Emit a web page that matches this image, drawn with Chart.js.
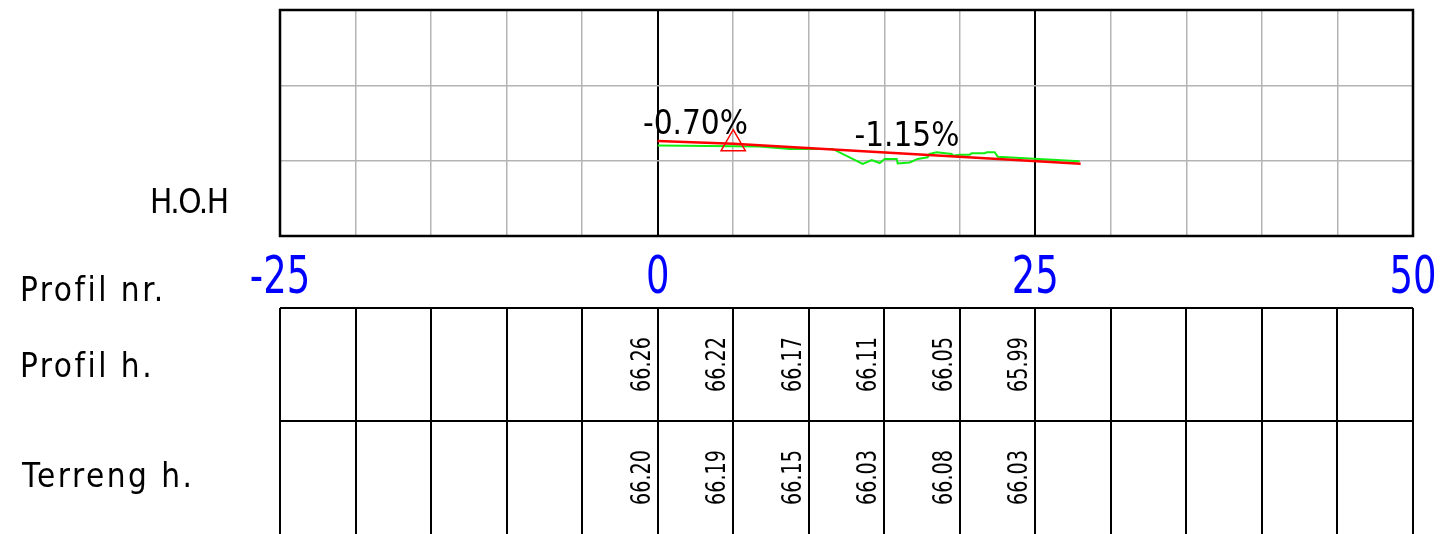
<!DOCTYPE html>
<html>
<head>
<meta charset="utf-8">
<script src="https://cdn.jsdelivr.net/npm/chart.js@4.4.1/dist/chart.umd.min.js"></script>
<style>
  html, body { margin: 0; padding: 0; background: #fff; }
  canvas { display: block; }
</style>
</head>
<body>
<canvas id="profile" width="1440" height="534"></canvas>
<script>
// stations along the profile (m) and the table values under them
const stations = [0, 5, 10, 15, 20, 25];
const profileHeights = ['66.26', '66.22', '66.17', '66.11', '66.05', '65.99'];
const terrainHeights = ['66.20', '66.19', '66.15', '66.03', '66.08', '66.03'];
const axisTicks = [-25, 0, 25, 50];
const rowLabels = ['H.O.H', 'Profil nr.', 'Profil h.', 'Terreng h.'];

// design line (red), break point at station 5
const designX = [0, 5, 28];
const designY = [66.26, 66.225, 65.96];
const gradeLabels = ['-0.70%', '-1.15%'];
const breakX = [5];
const breakY = [66.225];

// terrain line (green)
const terrainX = [0, 6.75, 8.74, 11.58, 13.57, 14.17, 14.70, 15.03, 15.82, 15.89, 16.68, 17.21,
  17.87, 18.00, 18.47, 19.46, 19.53, 19.99, 20.65, 20.79, 21.65, 21.78, 22.31, 22.51, 27.93];
const terrainY = [66.20, 66.187, 66.156, 66.156, 65.956, 66.009, 65.969, 66.023, 66.023, 65.964, 65.977, 66.023,
  66.044, 66.089, 66.111, 66.089, 66.067, 66.08, 66.08, 66.097, 66.097, 66.111, 66.111, 66.053, 65.991];

const toPoints = (xs, ys) => xs.map((x, i) => ({ x: x, y: ys[i] }));

const FONT = '"DejaVu Sans Condensed", "DejaVu Sans", sans-serif';
// the drawing uses a narrow CAD font for numbers, squeeze the glyphs a bit
const NARROW = 0.79;

// table rows below the plot
const tableTop = 308;
const tableMid = 421;
const tableBottom = 534;

function narrowText(ctx, txt, x, y) {
    ctx.save();
    ctx.translate(x, y);
    ctx.scale(NARROW, 1);
    ctx.fillText(txt, 0, 0);
    ctx.restore();
}

const profileDecor = {
    id: 'profileDecor',
    afterDraw(chart) {
        const ctx = chart.ctx;
        const area = chart.chartArea;
        const xs = chart.scales.x;
        const ys = chart.scales.y;
        ctx.save();

        // frame of the plot
        ctx.strokeStyle = '#000';
        ctx.lineWidth = 2.5;
        ctx.strokeRect(area.left, area.top, area.right - area.left, area.bottom - area.top);

        // grade labels above the design line
        ctx.fillStyle = '#000';
        ctx.font = '33px ' + FONT;
        ctx.textAlign = 'center';
        ctx.textBaseline = 'alphabetic';
        gradeLabels.forEach((txt, i) => {
            const mx = (designX[i] + designX[i + 1]) / 2;
            const my = (designY[i] + designY[i + 1]) / 2;
            ctx.fillText(txt, xs.getPixelForValue(mx), ys.getPixelForValue(my) - 8);
        });

        // blue station numbers
        ctx.fillStyle = '#0000ff';
        ctx.font = '52px ' + FONT;
        axisTicks.forEach(v => {
            narrowText(ctx, v < 0 ? '-' + Math.abs(v) : String(v), xs.getPixelForValue(v), 293);
        });

        // table lines
        ctx.strokeStyle = '#000';
        ctx.lineWidth = 2;
        ctx.beginPath();
        [tableTop, tableMid].forEach(y => {
            ctx.moveTo(area.left, y);
            ctx.lineTo(area.right, y);
        });
        for (let v = xs.min; v <= xs.max; v += 5) {
            const px = Math.round(xs.getPixelForValue(v));
            ctx.moveTo(px, tableTop);
            ctx.lineTo(px, tableBottom);
        }
        ctx.stroke();

        // rotated table values
        ctx.fillStyle = '#000';
        ctx.font = '27px ' + FONT;
        const rows = [
            { values: profileHeights, center: (tableTop + tableMid) / 2 },
            { values: terrainHeights, center: (tableMid + tableBottom) / 2 },
        ];
        rows.forEach(row => {
            row.values.forEach((txt, i) => {
                ctx.save();
                ctx.translate(xs.getPixelForValue(stations[i]) - 18, row.center);
                ctx.rotate(-Math.PI / 2);
                narrowText(ctx, txt, 0, 10);
                ctx.restore();
            });
        });

        // row labels on the left
        ctx.font = '33px ' + FONT;
        ctx.textAlign = 'left';
        ctx.letterSpacing = '-1.5px';
        ctx.fillText(rowLabels[0], 150, 213);
        ctx.letterSpacing = '2.5px';
        ctx.fillText(rowLabels[1], 20, 301);
        ctx.fillText(rowLabels[2], 20, 377);
        ctx.fillText(rowLabels[3], 22, 487);
        ctx.restore();
    }
};

const canvas = document.getElementById('profile');
new Chart(canvas.getContext('2d'), {
    type: 'scatter',
    data: {
        datasets: [
            {
                label: 'Break',
                data: toPoints(breakX, breakY),
                pointStyle: 'triangle',
                pointRadius: 14,
                borderColor: '#ff0000',
                backgroundColor: 'rgba(0,0,0,0)',
                borderWidth: 1.5,
                order: 0,
            },
            {
                label: 'Profil',
                data: toPoints(designX, designY),
                showLine: true,
                borderColor: '#ff0000',
                borderWidth: 2.5,
                pointRadius: 0,
                tension: 0,
                order: 1,
            },
            {
                label: 'Terreng',
                data: toPoints(terrainX, terrainY),
                showLine: true,
                borderColor: '#11ee11',
                borderWidth: 2,
                pointRadius: 0,
                tension: 0,
                order: 2,
            },
        ]
    },
    options: {
        responsive: false,
        animation: false,
        layout: {
            autoPadding: false,
            padding: { left: 280, right: 27, top: 10, bottom: 298 }
        },
        plugins: {
            legend: { display: false },
            tooltip: { enabled: false },
        },
        scales: {
            x: {
                type: 'linear',
                min: -25,
                max: 50,
                ticks: { stepSize: 5, display: false },
                border: { display: false },
                grid: {
                    drawTicks: false,
                    color: c => (c.tick.value % 25 === 0 ? '#000' : '#b4b4b4'),
                    lineWidth: c => (c.tick.value % 25 === 0 ? 2 : 1.5),
                }
            },
            y: {
                min: 65,
                max: 68,
                ticks: { stepSize: 1, display: false },
                border: { display: false },
                grid: {
                    drawTicks: false,
                    color: '#b4b4b4',
                    lineWidth: 1.5,
                }
            }
        }
    },
    plugins: [profileDecor]
});
</script>
</body>
</html>
